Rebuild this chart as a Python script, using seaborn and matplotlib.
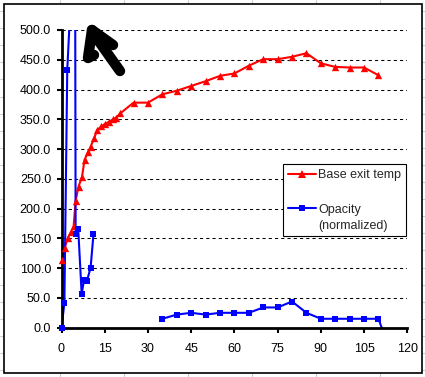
import numpy as np
import pandas as pd
import seaborn as sns
import matplotlib.pyplot as plt
from matplotlib.lines import Line2D
from matplotlib.patches import Rectangle

sns.set_style("ticks")
plt.rcParams['font.family'] = ['Liberation Sans', 'DejaVu Sans']

# values
red_x = [0, 1.1, 2.2, 3.2, 4.2, 4.9, 5.9, 7.1, 8.0, 9.2, 10.1, 11.3, 12.4, 13.8, 15.0, 16.5, 17.9, 19.0, 20.4,
         25, 30, 35, 40, 45, 50, 55, 60, 65, 70, 75, 80, 85, 90, 95, 100, 105, 110]
red_y = [114, 134, 151, 160, 170, 213, 237, 253, 282, 295, 304, 318, 332, 338, 342, 346, 350, 353, 360,
         378, 378, 392, 398, 406, 414, 423, 427, 440, 451, 451, 455, 461, 444, 438, 437, 437, 424]

blue_x = [0, 1.0, 2.0, 4.7, 4.9, 5.8, 7.0, 7.8, 8.8, 10.1, 11.1, None,
          35, 40, 45, 50, 55, 60, 65, 70, 75, 80, 85, 90, 95, 100, 105, 110, 111.7]
blue_y = [0, 41, 433, 700, 157, 166, 56, 80, 78, 101, 157, None,
          15, 22, 25, 22, 25, 25, 25, 34, 34, 44, 25, 15, 15, 15, 15, 15, -8]

x_ticks = [0, 15, 30, 45, 60, 75, 90, 105, 120]
y_ticks = [0, 50, 100, 150, 200, 250, 300, 350, 400, 450, 500]
labels = ["Base exit temp", "Opacity\n(normalized)"]

red = pd.DataFrame({"x": red_x, "y": red_y}, dtype=float)
blue = pd.DataFrame({"x": blue_x, "y": blue_y}, dtype=float)
blue["seg"] = blue["x"].isna().cumsum()
blue = blue.dropna()

W, H = 425, 377
fig = plt.figure(figsize=(W / 100, H / 100), dpi=100)
fig.patch.set_facecolor("white")

# spreadsheet cells behind the chart object
for gx in np.arange(-4, W, 64):
    fig.add_artist(Line2D([gx / W, gx / W], [0, 1], color="#cccccc", lw=0.75, zorder=-3))
for gy in np.arange(11, H, 17.1):
    fig.add_artist(Line2D([0, 1], [1 - gy / H, 1 - gy / H], color="#cccccc", lw=0.75, zorder=-3))
fig.add_artist(Rectangle((3.5 / W, 1 - 373.3 / H), (422 - 3.5) / W, (373.3 - 3.5) / H,
                         facecolor="white", edgecolor="black", lw=1.2, zorder=-1))

ax = fig.add_axes([61.5 / W, 1 - 327.7 / H, (407.3 - 61.5) / W, (327.7 - 30) / H])
ax.set_facecolor("none")

sns.lineplot(data=red, x="x", y="y", color="red", lw=1.5, sort=False, estimator=None,
             legend=False, ax=ax)
sns.lineplot(data=blue, x="x", y="y", units="seg", estimator=None, color="blue", lw=1.5,
             sort=False, legend=False, ax=ax)

red_in = red[(red["y"] >= 0) & (red["y"] <= 500)]
blue_in = blue[(blue["y"] >= 0) & (blue["y"] <= 500)]
sns.scatterplot(data=red_in, x="x", y="y", marker="^", color="red", s=28, linewidth=0,
                clip_on=False, zorder=3, legend=False, ax=ax)
sns.scatterplot(data=blue_in, x="x", y="y", marker="s", color="blue", s=18, linewidth=0,
                clip_on=False, zorder=3, legend=False, ax=ax)

ax.set_xlim(0, 120)
ax.set_ylim(0, 500)
ax.set_xticks(x_ticks)
ax.set_yticks(y_ticks)
ax.set_yticklabels([f"{v:.1f}" for v in y_ticks])
ax.set_xlabel("")
ax.set_ylabel("")
ax.yaxis.grid(True, color="black", lw=0.75, linestyle=(0, (3, 3)))
ax.xaxis.grid(False)
sns.despine(ax=ax)
for side in ["left", "bottom"]:
    ax.spines[side].set_linewidth(2)
    ax.spines[side].set_color("black")
ax.tick_params(axis="both", direction="out", length=3.5, width=1.5, color="black",
               labelsize=9, labelcolor="black")
ax.tick_params(axis="x", pad=7.5)
ax.tick_params(axis="y", pad=4)

handles = [Line2D([], [], color="red", lw=1.5, marker="^", markersize=5.5, markeredgewidth=0),
           Line2D([], [], color="blue", lw=1.5, marker="s", markersize=4.5, markeredgewidth=0)]
leg = ax.legend(handles, labels, loc="upper left", bbox_to_anchor=(283.3 / W, 1 - 164.3 / H),
                bbox_transform=fig.transFigure, borderaxespad=0, borderpad=0.38,
                handlelength=2.2, handletextpad=0.2, labelspacing=1.8, fontsize=9,
                fancybox=False, framealpha=1, edgecolor="black")
leg.get_frame().set_linewidth(0.8)
leg.get_texts()[1].set_linespacing(1.45)
leg._legend_handle_box.get_children()[0].get_children()[1].align = "top"

# hand-drawn arrow scribbled on top of the chart
strokes = [[(92, 30), (88, 58), (94, 55)],
           [(92, 30), (113, 45)],
           [(93, 33), (120, 71)]]
for st in strokes:
    xs = [p[0] / W for p in st]
    ys = [1 - p[1] / H for p in st]
    fig.add_artist(Line2D(xs, ys, color="black", lw=7.5, solid_capstyle="round",
                          solid_joinstyle="round", zorder=10))

fig.savefig("out.png", dpi=100, facecolor="white")
